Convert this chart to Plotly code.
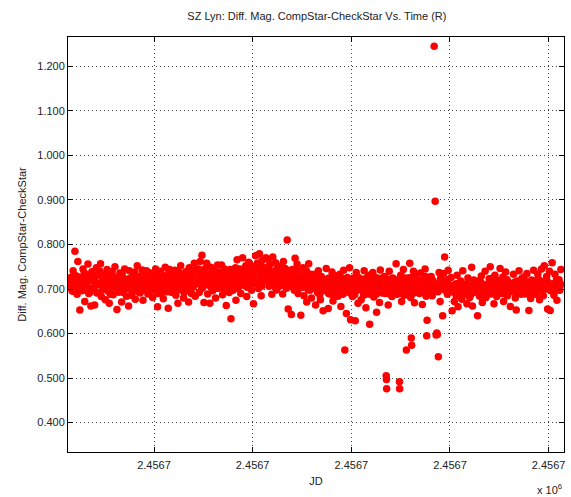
import plotly.graph_objects as go

# Observation times: JD - 2456702, in units of 1e-4 day
jd_frac = [
    6070, 6075, 6079, 6084, 6090, 6095, 6099, 6104, 6110, 6114, 6119, 6124,
    6130, 6135, 6140, 6144, 6149, 6155, 6160, 6165, 6169, 6175, 6180, 6185,
    6189, 6193, 6199, 6204, 6208, 6213, 6219, 6224, 6229, 6233, 6239, 6244,
    6248, 6253, 6258, 6262, 6268, 6273, 6277, 6282, 6288, 6293, 6297, 6302,
    6307, 6312, 6317, 6321, 6327, 6332, 6336, 6341, 6347, 6351, 6356, 6361,
    6366, 6371, 6375, 6380, 6386, 6390, 6395, 6400, 6405, 6409, 6415, 6420,
    6425, 6429, 6434, 6440, 6444, 6449, 6454, 6459, 6463, 6469, 6474, 6478,
    6484, 6488, 6493, 6499, 6503, 6508, 6513, 6518, 6522, 6528, 6533, 6537,
    6543, 6547, 6552, 6557, 6562, 6567, 6572, 6576, 6581, 6587, 6591, 6596,
    6602, 6606, 6611, 6616, 6621, 6626, 6630, 6635, 6641, 6645, 6650, 6655,
    6661, 6665, 6670, 6675, 6679, 6685, 6690, 6694, 6699, 6704, 6709, 6714,
    6720, 6724, 6729, 6734, 6739, 6743, 6748, 6753, 6758, 6763, 6767, 6772,
    6779, 6783, 6788, 6793, 6797, 6803, 6808, 6812, 6817, 6822, 6827, 6832,
    6838, 6842, 6847, 6852, 6857, 6862, 6866, 6871, 6876, 6881, 6886, 6890,
    6897, 6901, 6906, 6911, 6915, 6921, 6925, 6930, 6935, 6940, 6945, 6949,
    6956, 6960, 6965, 6970, 6975, 6980, 6984, 6989, 6994, 6999, 7004, 7008,
    7015, 7019, 7024, 7029, 7034, 7038, 7043, 7048, 7053, 7057, 7062, 7067,
    7074, 7078, 7083, 7088, 7093, 7097, 7102, 7107, 7112, 7116, 7121, 7126,
    7133, 7137, 7142, 7147, 7152, 7156, 7161, 7166, 7171, 7175, 7180, 7185,
    7192, 7196, 7201, 7206, 7211, 7215, 7220, 7225, 7230, 7234, 7239, 7244,
    7251, 7255, 7260, 7265, 7270, 7274, 7279, 7284, 7289, 7293, 7298, 7303,
    7310, 7314, 7319, 7324, 7329, 7333, 7338, 7343, 7348, 7352, 7357, 7362,
    7369, 7373, 7378, 7383, 7388, 7392, 7397, 7402, 7407, 7411, 7416, 7421,
    7428, 7432, 7437, 7442, 7447, 7451, 7456, 7461, 7467, 7470, 7475, 7480,
    7487, 7491, 7496, 7501, 7506, 7510, 7515, 7520, 7525, 7529, 7534, 7539,
    7546, 7550, 7555, 7560, 7565, 7569, 7574, 7579, 7584, 7588, 7593, 7598,
    7605, 7609, 7614, 7619, 7624, 7628, 7633, 7638, 7643, 7647, 7652, 7657,
    7664, 7668, 7673, 7677, 7678, 7679, 7682, 7687, 7692, 7697, 7701, 7706, 7711,
    7723, 7727, 7732, 7737, 7742, 7744, 7745, 7750, 7755, 7760, 7764, 7769, 7774, 7779,
    7782, 7786, 7791, 7796, 7801, 7804, 7806, 7810, 7815, 7820, 7824, 7829, 7834,
    7841, 7845, 7850, 7855, 7860, 7864, 7869, 7874, 7879, 7882, 7884, 7888, 7893,
    7900, 7905, 7910, 7915, 7920, 7925, 7930, 7933, 7936, 7939, 7941, 7945, 7950, 7955,
    7959, 7963, 7968, 7973, 7977, 7982, 7987, 7991, 7996, 8001, 8006, 8011,
    8018, 8022, 8027, 8032, 8036, 8041, 8046, 8051, 8055, 8060, 8065, 8070,
    8077, 8081, 8086, 8091, 8095, 8100, 8105, 8110, 8114, 8119, 8124, 8129,
    8136, 8140, 8145, 8150, 8154, 8159, 8164, 8169, 8173, 8178, 8183, 8188,
    8195, 8199, 8204, 8209, 8213, 8218, 8223, 8228, 8232, 8237, 8242, 8247,
    8254, 8258, 8263, 8268, 8272, 8277, 8282, 8287, 8291, 8296, 8301, 8306,
    8313, 8317, 8322, 8327, 8331, 8336, 8341, 8346, 8350, 8355, 8360, 8365,
    8372, 8376, 8381, 8386, 8390, 8395, 8400, 8405, 8409, 8414, 8419, 8424,
    8431, 8435, 8440, 8445, 8449, 8454, 8459, 8464, 8468, 8473, 8478, 8483,
    8490, 8495, 8499, 8504, 8508, 8513, 8518, 8523, 8527, 8532, 8537, 8542,
    8549, 8553, 8558, 8562,
    # interleaved frames
    6072, 6080, 6087, 6094, 6102, 6108, 6116, 6122,
    6131, 6138, 6146, 6153, 6161, 6167, 6175, 6182,
    6191, 6197, 6205, 6211, 6220, 6226, 6234, 6241,
    6250, 6256, 6264, 6270, 6279, 6285, 6292, 6300,
    6309, 6315, 6323, 6330, 6338, 6344, 6352, 6358,
    6368, 6373, 6382, 6388, 6397, 6403, 6411, 6417,
    6427, 6432, 6442, 6447, 6456, 6462, 6470, 6476,
    6486, 6491, 6501, 6506, 6515, 6521, 6530, 6535,
    6545, 6550, 6559, 6565, 6574, 6579, 6589, 6594,
    6604, 6609, 6618, 6624, 6632, 6638, 6647, 6653,
    6663, 6668, 6677, 6682, 6692, 6697, 6706, 6712,
    6721, 6727, 6736, 6741, 6750, 6756, 6765, 6770,
    6781, 6786, 6795, 6800, 6810, 6815, 6824, 6830,
    6840, 6845, 6854, 6859, 6868, 6873, 6883, 6888,
    6899, 6904, 6913, 6918, 6927, 6932, 6942, 6947,
    6958, 6963, 6972, 6977, 6986, 6991, 7001, 7006,
    7017, 7022, 7031, 7036, 7045, 7050, 7060, 7065,
    7076, 7081, 7090, 7095, 7104, 7109, 7119, 7124,
    7135, 7140, 7149, 7154, 7163, 7168, 7178, 7183,
    7194, 7199, 7208, 7213, 7222, 7227, 7236, 7241,
    7253, 7258, 7267, 7272, 7281, 7286, 7295, 7300,
    7312, 7317, 7326, 7331, 7340, 7345, 7354, 7359,
    7371, 7376, 7385, 7390, 7399, 7404, 7413, 7418,
    7430, 7435, 7444, 7449, 7458, 7463, 7472, 7477,
    7489, 7494, 7503, 7508, 7517, 7522, 7531, 7536,
    7548, 7553, 7562, 7567, 7576, 7581, 7590, 7595,
    7607, 7612, 7621, 7626, 7635, 7640, 7649, 7654,
    7666, 7671, 7684, 7690, 7694, 7699, 7704, 7709,
    7725, 7730, 7739, 7748, 7752, 7757, 7767, 7772,
    7784, 7789, 7798, 7803, 7812, 7817, 7827, 7832,
    7843, 7848, 7857, 7862, 7871, 7876, 7886, 7891,
    7902, 7907, 7913, 7918, 7943, 7947, 7952, 7957,
    7961, 7966, 7975, 7980, 7989, 7994, 8003, 8009,
    8020, 8025, 8034, 8039, 8048, 8053, 8062, 8068,
    8079, 8084, 8093, 8098, 8107, 8112, 8121, 8127,
    8138, 8143, 8152, 8157, 8166, 8171, 8180, 8186,
    8197, 8202, 8211, 8216, 8225, 8230, 8239, 8245,
    8256, 8261, 8270, 8275, 8284, 8289, 8298, 8304,
    8315, 8320, 8329, 8334, 8343, 8348, 8357, 8363,
    8374, 8379, 8388, 8393, 8402, 8407, 8416, 8422,
    8433, 8438, 8447, 8452, 8461, 8466, 8475, 8481,
    8492, 8497, 8506, 8511, 8520, 8525, 8534, 8540,
    8551, 8556, 8560,
]

# Differential magnitude CompStar - CheckStar, in millimag
diff_mmag = [
    718, 705, 726, 697, 741, 712, 785, 730, 688, 762, 703, 653,
    724, 696, 745, 708, 672, 733, 715, 756, 690, 718, 662, 739,
    701, 728, 664, 715, 748, 692, 735, 710, 757, 683, 722, 699,
    731, 676, 712, 744, 695, 668, 725, 706, 739, 687, 713, 750,
    704, 654, 722, 693, 736, 713, 671, 727, 698, 745, 716, 684,
    719, 662, 741, 707, 686, 728, 699, 732, 677, 714, 752, 694,
    726, 691, 709, 743, 675, 716, 731, 698, 722, 689, 737, 705,
    712, 735, 681, 724, 697, 745, 718, 660, 728, 703, 740, 690,
    731, 678, 715, 749, 699, 726, 657, 738, 712, 693, 733, 720,
    708, 742, 686, 725, 668, 736, 714, 752, 697, 729, 680, 717,
    739, 702, 721, 671, 748, 715, 690, 733, 706, 758, 684, 724,
    716, 745, 692, 762, 731, 776, 704, 670, 737, 711, 758, 689,
    725, 668, 749, 713, 696, 741, 719, 680, 734, 754, 702, 727,
    710, 754, 687, 729, 745, 700, 663, 738, 716, 692, 744, 633,
    722, 697, 741, 712, 675, 766, 728, 705, 745, 690, 733, 770,
    735, 708, 752, 683, 726, 760, 714, 744, 697, 731, 667, 748,
    775, 722, 758, 701, 779, 739, 685, 764, 717, 748, 730, 770,
    742, 767, 706, 755, 729, 688, 772, 734, 713, 759, 698, 745,
    726, 751, 708, 738, 689, 762, 719, 745, 702, 810, 655, 733,
    715, 643, 744, 728, 697, 769, 711, 756, 690, 735, 706, 641,
    722, 748, 685, 709, 736, 671, 718, 757, 697, 726, 680, 713,
    704, 733, 664, 719, 692, 741, 710, 676, 728, 699, 651, 722,
    697, 746, 712, 656, 725, 689, 708, 738, 673, 715, 694, 730,
    715, 684, 702, 733, 661, 720, 695, 742, 563, 708, 645, 726,
    700, 748, 631, 712, 683, 725, 695, 629, 737, 705, 668, 719,
    708, 676, 722, 694, 741, 703, 658, 716, 689, 731, 621, 699,
    714, 737, 682, 705, 726, 648, 698, 719, 670, 743, 709, 691,
    702, 728, 690, 505, 497, 476, 716, 664, 740, 697, 711, 683, 725,
    709, 757, 688, 720, 697, 492, 476, 731, 672, 704, 744, 686, 715, 563,
    703, 725, 695, 758, 681, 590, 574, 712, 740, 669, 706, 731, 693,
    712, 690, 736, 702, 665, 721, 697, 745, 684, 595, 630, 708, 726,
    701, 728, 685, 716, 1245, 897, 597, 601, 598, 694, 548, 737, 672, 709,
    706, 640, 735, 772, 699, 718, 688, 742, 703, 694, 726, 651,
    698, 672, 711, 685, 731, 660, 702, 694, 718, 677, 741, 703,
    689, 706, 667, 725, 700, 681, 697, 749, 662, 712, 693, 715,
    702, 640, 718, 684, 697, 729, 670, 705, 693, 740, 681, 710,
    698, 723, 750, 689, 706, 712, 667, 731, 701, 683, 719, 695,
    746, 704, 690, 727, 672, 709, 738, 699, 685, 716, 703, 661,
    711, 694, 733, 702, 680, 653, 718, 697, 741, 706, 688, 724,
    700, 727, 689, 712, 735, 694, 652, 708, 679, 720, 698, 742,
    704, 688, 719, 733, 697, 676, 711, 745, 700, 685, 752, 718,
    728, 655, 702, 740, 652, 697, 759, 712, 686, 733, 705, 675,
    698, 721, 706, 744,
    # interleaved frames
    709, 722, 695, 731, 716, 700, 727, 711,
    714, 698, 736, 719, 705, 727, 692, 721,
    718, 703, 729, 691, 712, 740, 707, 724,
    700, 721, 713, 732, 688, 715, 724, 703,
    726, 710, 699, 718, 734, 692, 713, 706,
    701, 723, 714, 690, 719, 738, 706, 727,
    712, 729, 697, 720, 705, 741, 716, 693,
    707, 721, 733, 700, 712, 690, 725, 715,
    717, 703, 728, 694, 721, 744, 708, 730,
    723, 698, 711, 738, 704, 726, 716, 692,
    710, 728, 697, 735, 719, 704, 742, 713,
    727, 712, 739, 701, 723, 745, 716, 732,
    708, 735, 719, 742, 701, 724, 716, 738,
    726, 711, 740, 697, 723, 731, 707, 719,
    733, 715, 748, 702, 737, 721, 710, 744,
    720, 739, 704, 730, 718, 753, 711, 726,
    741, 715, 752, 728, 706, 747, 733, 719,
    723, 751, 717, 739, 725, 708, 743, 730,
    712, 739, 727, 716, 746, 705, 730, 721,
    729, 706, 738, 718, 742, 701, 724, 713,
    704, 727, 716, 741, 699, 712, 733, 707,
    718, 701, 730, 709, 687, 724, 712, 696,
    709, 722, 690, 714, 701, 727, 683, 711,
    696, 713, 706, 725, 688, 702, 717, 694,
    714, 691, 703, 720, 687, 709, 698, 726,
    700, 715, 686, 709, 724, 696, 711, 689,
    695, 720, 706, 688, 713, 701, 724, 698,
    710, 694, 703, 722, 689, 707, 716, 700,
    698, 715, 704, 690, 718, 706, 725, 701,
    712, 697, 709, 726, 690, 703, 718, 699,
    701, 719, 693, 710, 706, 728, 697, 714,
    708, 693, 719, 702, 712, 699, 723, 705,
    702, 714, 697, 706, 721, 693, 708, 699,
    705, 691, 712, 700, 697, 709, 686, 703,
    700, 712, 694, 703, 688, 706, 720, 699,
    708, 696, 703, 715, 699, 690, 706, 701,
    703, 710, 697, 725, 704, 690, 708, 700,
    699, 713, 702, 690, 706, 721, 701, 694,
    706, 700, 716, 694, 703, 710, 697, 708,
    702, 718, 697, 705, 712, 690, 704, 699,
    709, 697, 703, 721, 700, 692, 707, 700,
    703, 715, 698, 706, 694, 710, 700, 721,
    705, 697, 712,
]

jd_tick_vals = [2456702.65, 2456702.70, 2456702.75, 2456702.80, 2456702.85]
jd_tick_text = ["2.4567", "2.4567", "2.4567", "2.4567", "2.4567"]
mag_tick_vals = [0.4, 0.5, 0.6, 0.7, 0.8, 0.9, 1.0, 1.1, 1.2]

jd = [2456702 + f / 1e4 for f in jd_frac]
mag = [m / 1000 for m in diff_mmag]

font = dict(family="Liberation Sans, Arial, sans-serif", size=11, color="#222222")

fig = go.Figure(
    go.Scatter(
        x=jd, y=mag, mode="markers",
        marker=dict(symbol="circle", size=7.5, color="#ff0000", line=dict(width=0)),
        hoverinfo="skip",
    )
)

axis_common = dict(
    showline=True, linecolor="black", linewidth=1, mirror="ticks",
    ticks="inside", ticklen=5, tickcolor="black",
    showgrid=True, gridcolor="#444444", griddash="1px,3px", gridwidth=1,
    zeroline=False, tickfont=font,
)

fig.update_layout(
    width=571, height=497,
    margin=dict(l=68, r=7, t=37, b=45),
    paper_bgcolor="white", plot_bgcolor="white",
    showlegend=False, font=font,
    title=dict(text="SZ Lyn: Diff. Mag. CompStar-CheckStar Vs. Time (R)",
               x=0.555, xanchor="center", y=0.968, yanchor="middle",
               font=dict(family="Liberation Sans, Arial, sans-serif", size=11, color="#222222")),
    xaxis=dict(axis_common, range=[2456702.6064, 2456702.8578],
               tickvals=jd_tick_vals, ticktext=jd_tick_text, ticklabelstandoff=3,
               title=dict(text="JD", standoff=7, font=font)),
    yaxis=dict(axis_common, range=[0.334, 1.266],
               tickvals=mag_tick_vals, tickformat=".3f",
               title=dict(text="Diff. Mag. CompStar-CheckStar", standoff=8, font=font)),
)

fig.add_annotation(
    x=1.0, xref="paper", xanchor="right", y=-0.088, yref="paper", yanchor="middle",
    text="x 10<sup>6</sup>", showarrow=False, font=font,
)

fig.write_html("out.html")
